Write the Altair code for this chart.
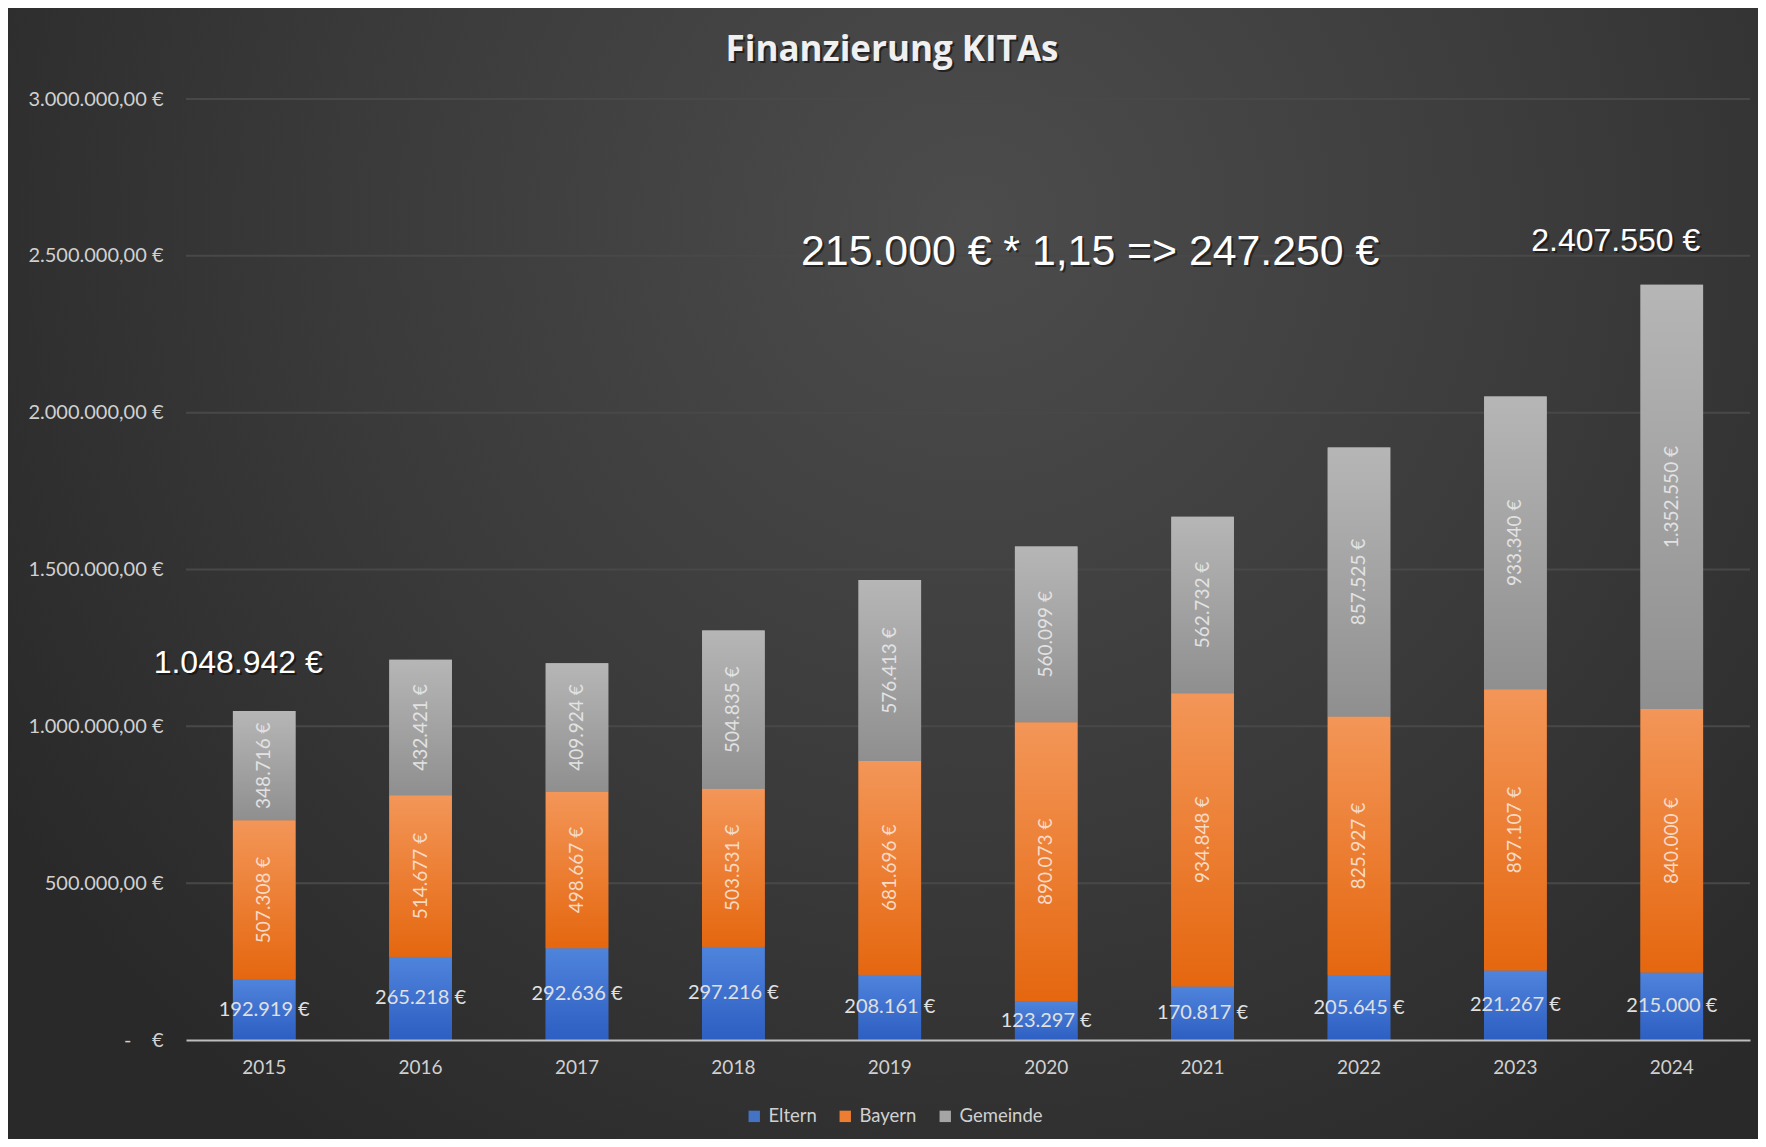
import altair as alt
import pandas as pd

years = ["2015", "2016", "2017", "2018", "2019", "2020", "2021", "2022", "2023", "2024"]
eltern = [192919, 265218, 292636, 297216, 208161, 123297, 170817, 205645, 221267, 215000]
bayern = [507308, 514677, 498667, 503531, 681696, 890073, 934848, 825927, 897107, 840000]
gemeinde = [348716, 432421, 409924, 504835, 576413, 560099, 562732, 857525, 933340, 1352550]
series = ["Eltern", "Bayern", "Gemeinde"]
legend_colors = ["#4472c4", "#ed7d31", "#a5a5a5"]
y_ticks = [0, 500000, 1000000, 1500000, 2000000, 2500000, 3000000]
zero_label = "-\u00a0\u00a0\u00a0\u00a0€"
title_text = "Finanzierung KITAs"

annot_text = ["1.048.942 €", "215.000 € * 1,15 => 247.250 €", "2.407.550 €"]
annot_year = ["2015", "2020", "2024"]
annot_value = [1200600, 2511300, 2547300]


def fmt(v):
    return f"{v:,}".replace(",", ".") + " €"


rows = []
for i, y in enumerate(years):
    for k, (s, vals) in enumerate(zip(series, [eltern, bayern, gemeinde])):
        rows.append({"year": y, "series": s, "order": k, "value": vals[i], "label": fmt(vals[i])})
df = pd.DataFrame(rows)

W, H = 1564, 941
PL, PT, PR, PB = 178, 91, 8, 99

x_enc = alt.X(
    "year:N",
    title=None,
    sort=years,
    scale=alt.Scale(paddingInner=0.6, paddingOuter=0.3),
    axis=alt.Axis(
        labelAngle=0, labelFont="Lato", labelFontSize=19, labelColor="#d0d0d0",
        labelPadding=18, ticks=False, domainColor="#bdbdbd", domainWidth=2,
        grid=False, zindex=1,
    ),
)
y_axis = alt.Axis(
    values=y_ticks, grid=False, ticks=False, domain=False, zindex=1,
    labelFont="Lato", labelFontSize=20, labelColor="#d0d0d0", labelPadding=23,
    labelExpr="datum.value == 0 ? '" + zero_label + "' : replace(replace(replace(format(datum.value, ',.2f'), regexp(',', 'g'), '#'), '.', ','), regexp('#', 'g'), '.') + ' €'",
)
y_scale = alt.Scale(domain=[0, 3000000], nice=False)

# background with radial gradient
bg_grad = alt.Gradient(
    gradient="radial", x1=0.55, y1=0.3, r1=0.0, x2=0.55, y2=0.3, r2=0.65,
    stops=[
        alt.GradientStop(offset=0, color="#4c4c4c"),
        alt.GradientStop(offset=0.55, color="#3a3a3a"),
        alt.GradientStop(offset=1, color="#292929"),
    ],
)
background = alt.Chart(alt.Data(values=[{"a": 1}])).mark_rect(fill=bg_grad, clip=False).encode(
    x=alt.value(-PL), x2=alt.value(W + PR), y=alt.value(-PT), y2=alt.value(H + PB)
)

title_src = alt.Chart(alt.Data(values=[{"t": title_text}]))
title_shadow = title_src.mark_text(
    font="Open Sans", fontSize=35, fontWeight="bold", color="#000000", opacity=0.5,
    align="center", baseline="middle"
).encode(x=alt.value(708), y=alt.value(-47), text="t:N")
title_mark = title_src.mark_text(
    font="Open Sans", fontSize=35, fontWeight="bold", color="#f0f0f0",
    align="center", baseline="middle"
).encode(x=alt.value(706), y=alt.value(-49), text="t:N")

grid = alt.Chart(alt.Data(values=[{"v": t} for t in y_ticks if t > 0])).mark_rule(
    color="#484848", strokeWidth=2
).encode(y=alt.Y("v:Q", scale=y_scale, axis=y_axis, title=None))

base = alt.Chart(df).transform_stack(
    stack="value", groupby=["year"], as_=["y0", "y1"], sort=[alt.SortField("order", order="ascending")]
).transform_calculate(mid="(datum.y0 + datum.y1) / 2")

legend_bars = base.mark_bar().encode(
    x=x_enc,
    y=alt.Y("y0:Q", scale=y_scale, axis=y_axis, title=None),
    y2="y1:Q",
    color=alt.Color(
        "series:N",
        scale=alt.Scale(domain=series, range=legend_colors),
        sort=series,
        legend=alt.Legend(
            orient="none", legendX=559, legendY=1008, direction="horizontal", title=None,
            symbolType="square", symbolSize=130, symbolStrokeWidth=0,
            labelFont="Lato", labelFontSize=18.5, labelColor="#d0d0d0",
            columnPadding=19, labelOffset=5,
        ),
    ),
)

grads = {
    "Eltern": ("#4f84dc", "#2d5ec2"),
    "Bayern": ("#f39658", "#e5670f"),
    "Gemeinde": ("#b6b6b6", "#8f8f8f"),
}
grad_layers = []
for s in series:
    top, bot = grads[s]
    g = alt.Gradient(
        gradient="linear", x1=0, y1=0, x2=0, y2=1,
        stops=[alt.GradientStop(offset=0, color=top), alt.GradientStop(offset=1, color=bot)],
    )
    grad_layers.append(
        base.transform_filter(f"datum.series == '{s}'").mark_bar(fill=g).encode(
            x=x_enc, y=alt.Y("y0:Q", scale=y_scale, axis=y_axis, title=None), y2="y1:Q"
        )
    )

label_eltern = base.transform_filter("datum.series == 'Eltern'").mark_text(
    font="Lato", fontSize=20, color="#e0e0e0", align="center", baseline="middle"
).encode(x=x_enc, y=alt.Y("mid:Q", scale=y_scale, axis=y_axis, title=None), text="label:N")

label_bayern = base.transform_filter("datum.series == 'Bayern'").mark_text(
    font="Lato", fontSize=19, color="#f7dac6", align="center", baseline="middle", angle=270
).encode(x=x_enc, y=alt.Y("mid:Q", scale=y_scale, axis=y_axis, title=None), text="label:N")

label_gem = base.transform_filter("datum.series == 'Gemeinde'").mark_text(
    font="Lato", fontSize=19, color="#e2e2e2", align="center", baseline="middle", angle=270
).encode(x=x_enc, y=alt.Y("mid:Q", scale=y_scale, axis=y_axis, title=None), text="label:N")

annot_df = pd.DataFrame({"year": annot_year, "value": annot_value, "text": annot_text})
annot_specs = [(0, -26, 32), (1, 44, 42.8), (2, -56, 32)]
annot_layers = []
for idx, dx, size in annot_specs:
    sub = alt.Chart(annot_df.iloc[[idx]])
    enc = dict(x=x_enc, y=alt.Y("value:Q", scale=y_scale, axis=y_axis, title=None), text="text:N")
    annot_layers.append(
        sub.mark_text(font="Liberation Sans", fontSize=size, color="#000000", opacity=0.45,
                      align="center", baseline="middle", dx=dx + 2, dy=2).encode(**enc)
    )
    annot_layers.append(
        sub.mark_text(font="Liberation Sans", fontSize=size, color="#ffffff",
                      align="center", baseline="middle", dx=dx).encode(**enc)
    )

chart = alt.layer(
    background, title_shadow, title_mark, grid, legend_bars, *grad_layers,
    label_eltern, label_bayern, label_gem, *annot_layers
).properties(
    width=W,
    height=H,
    padding={"left": PL, "top": PT, "right": PR, "bottom": PB},
    autosize=alt.AutoSizeParams(type="none"),
    background="#2d2d2d",
).configure_view(strokeWidth=0)

chart.save("out.html", embed_options={"renderer": "svg", "actions": False})
